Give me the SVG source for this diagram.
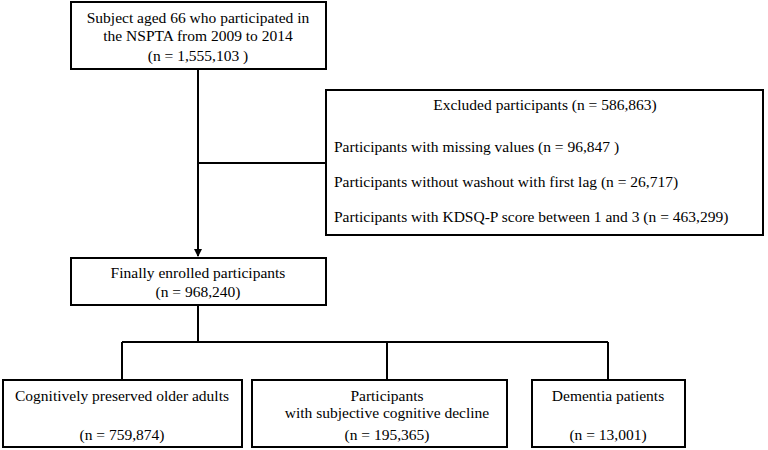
<svg xmlns="http://www.w3.org/2000/svg" width="768" height="450" viewBox="0 0 768 450">
<style>
rect{fill:#fff;stroke:#000;stroke-width:2}
text{font-family:'Liberation Serif','Times New Roman','DejaVu Serif',serif;font-size:15.5px;fill:#000}
.c{text-anchor:middle}
#conn path{fill:none;stroke:#000;stroke-width:2}
</style>
<defs><marker id="ar" markerWidth="8" markerHeight="8" refX="7" refY="4" orient="auto" markerUnits="userSpaceOnUse"><path d="M0,0 L8,4 L0,8 z" fill="#000"/></marker></defs>
<rect width="768" height="450" style="stroke:none"/>
<g id="conn">
<path d="M198,69 V256" marker-end="url(#ar)"/>
<path d="M198,163 H326"/>
<path d="M198,305 V342 M122,342 H608 M122,342 V380 M387,342 V380 M608,342 V380"/>
</g>
<g id="n1"><rect x="71" y="2" width="255" height="67"/>
<text class="c" x="198" y="23" font-family="Liberation Serif, serif">Subject aged 66 who participated in</text>
<text class="c" x="198" y="41" font-family="Liberation Serif, serif">the NSPTA from 2009 to 2014</text>
<text class="c" x="198" y="61" font-family="Liberation Serif, serif">(n = 1,555,103 )</text></g>
<g id="n2"><rect x="326" y="90" width="437" height="145"/>
<text class="c" x="545" y="110" font-family="Liberation Serif, serif">Excluded participants (n = 586,863)</text>
<text x="334" y="152" font-family="Liberation Serif, serif">Participants with missing values (n = 96,847 )</text>
<text x="334" y="187" font-family="Liberation Serif, serif">Participants without washout with first lag (n = 26,717)</text>
<text x="334" y="222" font-family="Liberation Serif, serif">Participants with KDSQ-P score between 1 and 3 (n = 463,299)</text></g>
<g id="n3"><rect x="71" y="258" width="255" height="47"/>
<text class="c" x="198" y="278" font-family="Liberation Serif, serif">Finally enrolled participants</text>
<text class="c" x="198" y="297" font-family="Liberation Serif, serif">(n = 968,240)</text></g>
<g id="n4"><rect x="3" y="380" width="239" height="67"/>
<text class="c" x="122" y="401" font-family="Liberation Serif, serif">Cognitively preserved older adults</text>
<text class="c" x="122" y="440" font-family="Liberation Serif, serif">(n = 759,874)</text></g>
<g id="n5"><rect x="252" y="380" width="255" height="67"/>
<text class="c" x="387" y="401" font-family="Liberation Serif, serif">Participants</text>
<text class="c" x="387" y="418" font-family="Liberation Serif, serif">with subjective cognitive decline</text>
<text class="c" x="387" y="440" font-family="Liberation Serif, serif">(n = 195,365)</text></g>
<g id="n6"><rect x="532" y="380" width="153" height="67"/>
<text class="c" x="608" y="401" font-family="Liberation Serif, serif">Dementia patients</text>
<text class="c" x="608" y="440" font-family="Liberation Serif, serif">(n = 13,001)</text></g>
</svg>
